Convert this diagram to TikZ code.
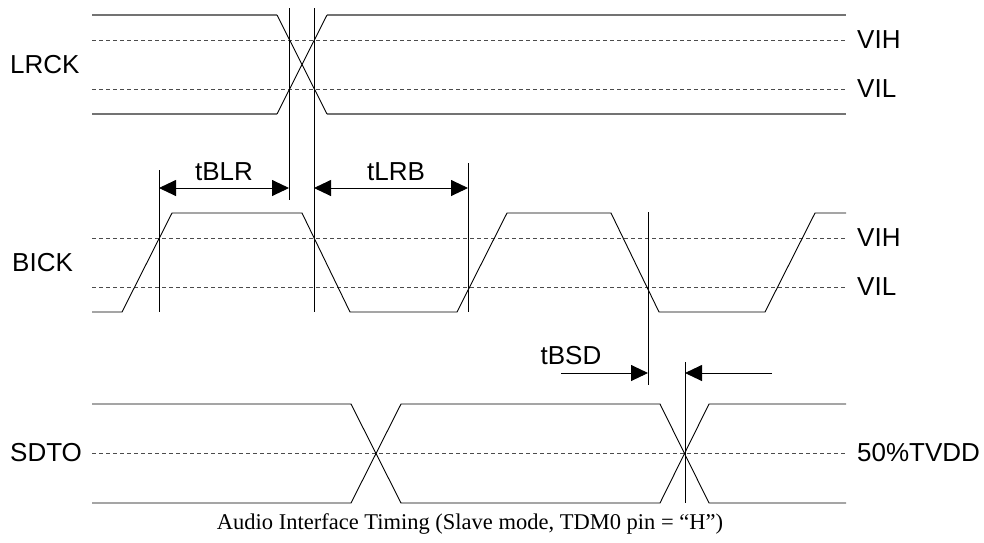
\documentclass[tikz,border=0pt]{standalone}
\usepackage{fontspec}
\setmainfont{Liberation Serif}
\setsansfont{Liberation Sans}
\usetikzlibrary{arrows.meta}
\begin{document}
\begin{tikzpicture}[x=1pt,y=-1pt,
  wave/.style={line width=0.9pt, black},
  rail/.style={line width=1.5pt, black!55},
  thr/.style={line width=1pt, dash pattern=on 4pt off 3pt, black!70},
  vline/.style={line width=0.9pt, black},
  dimarrow/.style={line width=0.9pt, black, -{Triangle[length=17pt,width=16pt]}},
  lbl/.style={font=\sffamily\fontsize{26}{30}\selectfont, inner sep=0pt, anchor=west},
  tlbl/.style={font=\sffamily\fontsize{26}{30}\selectfont, inner sep=0pt},
]
\useasboundingbox (0,0) rectangle (984,542);

% ---------- LRCK ----------
\draw[thr] (92,40) -- (846,40);
\draw[thr] (92,89) -- (846,89);
\draw[rail] (92,15) -- (277,15);
\draw[rail] (327,15) -- (846,15);
\draw[rail] (92,114) -- (277,114);
\draw[rail] (327,114) -- (846,114);
\draw[wave] (277,15) -- (327,114);
\draw[wave] (277,114) -- (327,15);
\node[lbl] (lrck) at (10,65) {LRCK};
\node[lbl] (vih1) at (857,40) {VIH};
\node[lbl] (vil1) at (857,89) {VIL};

% ---------- BICK ----------
\draw[thr] (92,238) -- (846,238);
\draw[thr] (92,287) -- (846,287);
\draw[wave] (92,312) -- (122,312) -- (172,213) -- (302,213) -- (350,312)
  -- (457,312) -- (507,213) -- (611,213) -- (659,312) -- (765,312)
  -- (815,213) -- (846,213);
\node[lbl] (bick) at (12,263) {BICK};
\node[lbl] (vih2) at (857,238) {VIH};
\node[lbl] (vil2) at (857,287) {VIL};

% ---------- SDTO ----------
\draw[thr] (92,453) -- (846,453);
\draw[wave] (92,404) -- (351,404) -- (401,503) -- (660,503) -- (709,404) -- (846,404);
\draw[wave] (92,503) -- (351,503) -- (401,404) -- (660,404) -- (709,503) -- (846,503);
\node[lbl] (sdto) at (10,453) {SDTO};
\node[lbl] (tvdd) at (857,453) {50\%TVDD};

% ---------- timing markers ----------
\coordinate (va1) at (289,8);   \coordinate (vb1) at (289,200);
\coordinate (va2) at (314,8);   \coordinate (vb2) at (314,312);
\coordinate (va3) at (159,170); \coordinate (vb3) at (159,312);
\coordinate (va4) at (468,163); \coordinate (vb4) at (468,312);
\coordinate (va5) at (648,212); \coordinate (vb5) at (648,385);
\coordinate (va6) at (685,362); \coordinate (vb6) at (685,503);
\draw[vline] (va1) -- (vb1);
\draw[vline] (va2) -- (vb2);
\draw[vline] (va3) -- (vb3);
\draw[vline] (va4) -- (vb4);
\draw[vline] (va5) -- (vb5);
\draw[vline] (va6) -- (vb6);

\coordinate (blrL) at (159,188); \coordinate (blrR) at (289,188);
\coordinate (lrbL) at (314,188); \coordinate (lrbR) at (468,188);
\coordinate (bsdA) at (561,373); \coordinate (bsdB) at (648,373);
\coordinate (bsdC) at (772,373); \coordinate (bsdD) at (685,373);
\draw[dimarrow, {Triangle[length=17pt,width=16pt]}-{Triangle[length=17pt,width=16pt]}] (blrL) -- (blrR);
\draw[dimarrow, {Triangle[length=17pt,width=16pt]}-{Triangle[length=17pt,width=16pt]}] (lrbL) -- (lrbR);
\draw[dimarrow] (bsdA) -- (bsdB);
\draw[dimarrow] (bsdC) -- (bsdD);

\node[tlbl] (tblr) at (224,172) {tBLR};
\node[tlbl] (tlrb) at (396,172) {tLRB};
\node[tlbl] (tbsd) at (571,356) {tBSD};

% ---------- caption ----------
\node[font=\rmfamily\fontsize{22.5}{26}\selectfont, inner sep=0pt] (cap) at (470,524)
  {Audio Interface Timing (Slave mode, TDM0 pin = “H”)};
\end{tikzpicture}
\end{document}
